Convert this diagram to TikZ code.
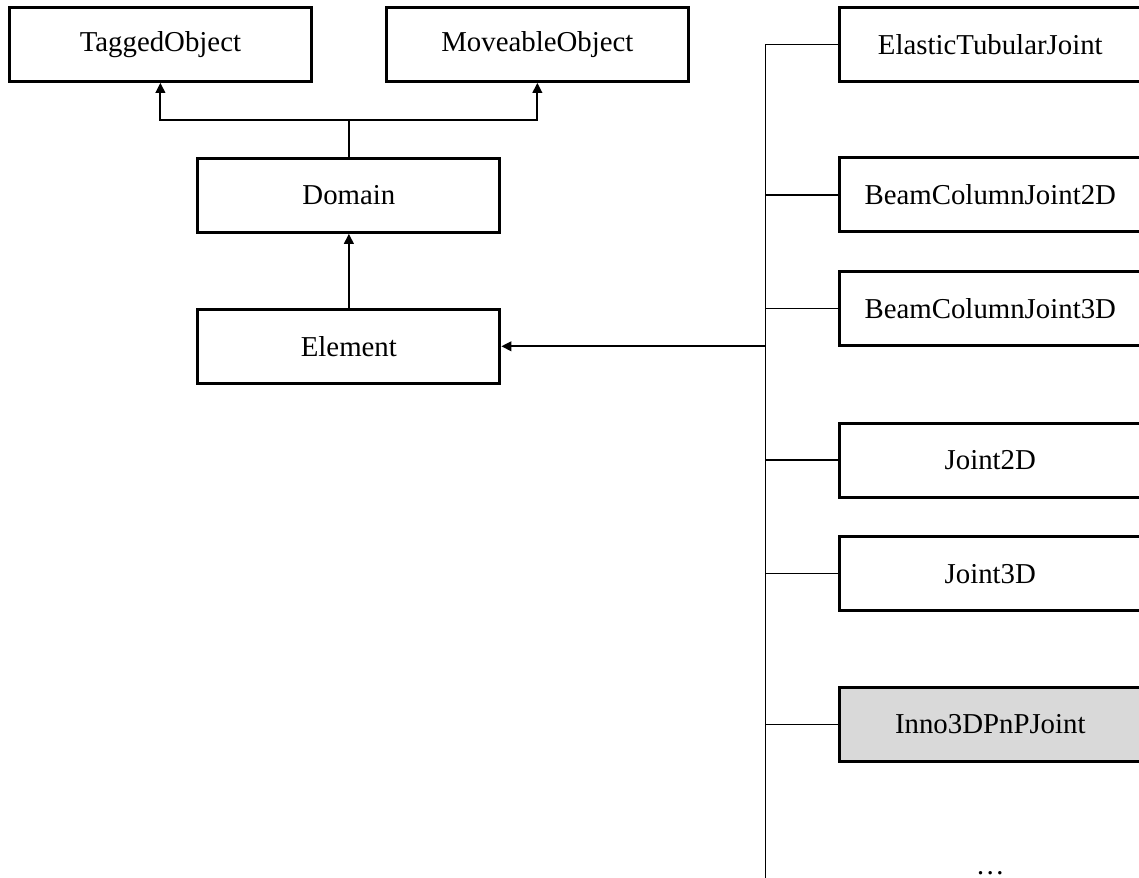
\documentclass[tikz,border=0pt]{standalone}
\usepackage{fontspec}
\setmainfont{Liberation Serif}
\usetikzlibrary{positioning,calc,arrows.meta}

\tikzset{
	classbox/.style={draw, line width=2.1pt, minimum width=7.55cm, minimum height=1.85cm,
		inner sep=0pt, font=\fontsize{20.5}{24}\selectfont},
	thisclass/.style={classbox, fill=black!15},
	baselink/.style={line width=1.4pt},
	parentlink/.style={baselink, -{Triangle[length=2.5mm,width=2.4mm]}},
	childlink/.style={line width=0.85pt},
}

\begin{document}
\begin{tikzpicture}
		\useasboundingbox (0,0) rectangle (28.475,21.95);
		\clip (0,0) rectangle (28.475,21.95);
		%
		\node[classbox] at (4.01,20.84) (tagged) {TaggedObject};
		\node[classbox, right=1.8cm of tagged] (moveable) {MoveableObject};
		\coordinate (mid) at ($(tagged.south)!0.5!(moveable.south)$);
		\node[classbox, below=1.85cm of mid] (domain) {Domain};
		\node[classbox, below=1.85cm of domain] (element) {Element};
		\coordinate (fork) at ($(domain.north)+(0,0.93cm)$);
		%
		\node[classbox, right=3.7cm of moveable] (elastic) {ElasticTubularJoint};
		\node[classbox, below=1.84cm of elastic] (bcj2d) {BeamColumnJoint2D};
		\node[classbox, below=0.92cm of bcj2d] (bcj3d) {BeamColumnJoint3D};
		\node[classbox, below=1.86cm of bcj3d] (joint2d) {Joint2D};
		\node[classbox, below=0.92cm of joint2d] (joint3d) {Joint3D};
		\node[thisclass, below=1.84cm of joint3d] (inno) {Inno3DPnPJoint};
		\node[font=\fontsize{20.5}{24}\selectfont, anchor=base, inner sep=0pt]
			at ($(inno.south)+(0,-2.8cm)$) (more) {\dots};
		%
		\coordinate (trunktop) at ($(elastic.west)+(-1.8cm,0)$);
		\coordinate (trunkend) at ($(trunktop)+(0,-25cm)$);
		\coordinate (trunkmid) at (element.east -| trunktop);
		%
		\draw[baselink] (domain.north) -- (fork);
		\draw[parentlink] (fork) -| (tagged.south);
		\draw[parentlink] (fork) -| (moveable.south);
		\draw[parentlink] (element.north) -- (domain.south);
		%
		\draw[childlink] (trunktop) -- (trunkend);
		\foreach \cls in {elastic,bcj2d,bcj3d,joint2d,joint3d,inno}
			\draw[childlink] (\cls.west) -- (\cls.west -| trunktop);
		\draw[parentlink] (trunkmid) -- (element.east);
\end{tikzpicture}
\end{document}
